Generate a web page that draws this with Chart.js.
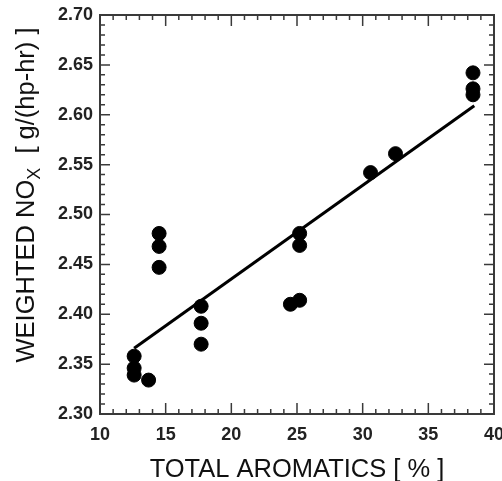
<!DOCTYPE html>
<html>
<head>
<meta charset="utf-8">
<script src="https://cdn.jsdelivr.net/npm/chart.js@4.4.1/dist/chart.umd.min.js"></script>
<style>
	html, body { margin: 0; padding: 0; background: #ffffff; }
	#wrap { width: 502px; height: 481px; }
</style>
</head>
<body>
<div id="wrap"><canvas id="nox-chart" width="502" height="481"></canvas></div>
<script>
// measured points: total aromatics [%] vs weighted NOx [g/(hp-hr)]
var aromatics = [12.6, 12.6, 12.6, 13.7, 14.5, 14.5, 14.5, 17.7, 17.7, 17.7, 24.5, 25.2, 25.2, 25.2, 30.6, 32.5, 38.4, 38.4, 38.4];
var noxValues = [2.358, 2.346, 2.339, 2.334, 2.481, 2.468, 2.447, 2.408, 2.391, 2.370, 2.410, 2.414, 2.481, 2.469, 2.542, 2.561, 2.642, 2.626, 2.620];
// fitted line end points
var fitX = [12.6, 38.5];
var fitY = [2.366, 2.609];
var xTicks = [10, 15, 20, 25, 30, 35, 40];
var yTicks = [2.30, 2.35, 2.40, 2.45, 2.50, 2.55, 2.60, 2.65, 2.70];

var fontFamily = "'Liberation Sans', Arial, Helvetica, sans-serif";
var frameColor = "#3a3a3a";

function toPoints(xs, ys) {
	var pts = [];
	for (var i = 0; i < xs.length; i++) {
		pts.push({x: xs[i], y: ys[i]});
	}
	return pts;
}

// frame with inward ticks on all four sides
var frameTicks = {
	id: "frameTicks",
	afterDraw: function(chart) {
		var ctx = chart.ctx;
		var area = chart.chartArea;
		var xs = chart.scales.x;
		var ys = chart.scales.y;
		ctx.save();
		ctx.strokeStyle = frameColor;
		ctx.lineWidth = 2;
		ctx.strokeRect(area.left, area.top, area.right - area.left, area.bottom - area.top);
		ctx.lineWidth = 1.5;
		ctx.beginPath();
		var i, v, p, len;
		for (i = 0; i <= 30; i++) {
			v = 10 + i;
			p = xs.getPixelForValue(v);
			len = (i % 5 === 0) ? 11 : 5;
			ctx.moveTo(p, area.bottom);
			ctx.lineTo(p, area.bottom - len);
			ctx.moveTo(p, area.top);
			ctx.lineTo(p, area.top + len);
		}
		for (i = 0; i <= 40; i++) {
			v = 2.30 + i * 0.01;
			p = ys.getPixelForValue(v);
			len = (i % 5 === 0) ? 10 : 5;
			ctx.moveTo(area.left, p);
			ctx.lineTo(area.left + len, p);
			ctx.moveTo(area.right, p);
			ctx.lineTo(area.right - len, p);
		}
		ctx.stroke();
		ctx.restore();
	}
};

// y axis title with subscript X
var yTitle = {
	id: "yTitle",
	afterDraw: function(chart) {
		var ctx = chart.ctx;
		var area = chart.chartArea;
		var mainFont = "25.5px " + fontFamily;
		var subFont = "18px " + fontFamily;
		var partA = "WEIGHTED NO";
		var partB = "X";
		var partC = "  [ g/(hp-hr) ]";
		ctx.save();
		ctx.font = mainFont;
		var wA = ctx.measureText(partA).width;
		var wC = ctx.measureText(partC).width;
		ctx.font = subFont;
		var wB = ctx.measureText(partB).width;
		var total = wA + wB + wC;
		var cy = area.top + 180;
		ctx.translate(27, cy);
		ctx.rotate(-Math.PI / 2);
		ctx.fillStyle = "#111111";
		ctx.textBaseline = "middle";
		ctx.textAlign = "left";
		var x0 = -total / 2;
		ctx.font = mainFont;
		ctx.fillText(partA, x0, 0);
		ctx.font = subFont;
		ctx.fillText(partB, x0 + wA, 8);
		ctx.font = mainFont;
		ctx.fillText(partC, x0 + wA + wB, 0);
		ctx.restore();
	}
};

var canvas = document.getElementById("nox-chart");
var noxChart = new Chart(canvas, {
	type: "scatter",
	data: {
		datasets: [
		{
			data: toPoints(aromatics, noxValues),
			backgroundColor: "#000000",
			borderColor: "#000000",
			pointRadius: 7,
			pointHoverRadius: 7
		},
		{
			type: "line",
			data: toPoints(fitX, fitY),
			borderColor: "#000000",
			borderWidth: 3,
			pointRadius: 0,
			fill: false
		}]
	},
	options: {
		responsive: false,
		animation: false,
		events: [],
		layout: { padding: { top: 15, right: 5, left: 0, bottom: 0 } },
		plugins: {
			legend: { display: false },
			tooltip: { enabled: false }
		},
		scales: {
			x: {
				type: "linear",
				min: 10,
				max: 40,
				afterBuildTicks: function(scale) {
					scale.ticks = xTicks.map(function(v) { return {value: v}; });
				},
				afterFit: function(scale) {
					scale.height = 67;
					scale.paddingLeft = 0;
					scale.paddingRight = 0;
				},
				grid: { display: false, drawTicks: false },
				border: { display: false },
				ticks: {
					autoSkip: false,
					maxRotation: 0,
					padding: 10,
					color: "#222222",
					font: { family: fontFamily, size: 18, weight: "bold" }
				},
				title: {
					display: true,
					text: "TOTAL AROMATICS [ % ]",
					color: "#111111",
					font: { family: fontFamily, size: 25.5, lineHeight: 0.9 },
					padding: { top: 0, bottom: 0 }
				}
			},
			y: {
				type: "linear",
				min: 2.30,
				max: 2.70,
				afterBuildTicks: function(scale) {
					scale.ticks = yTicks.map(function(v) { return {value: v}; });
				},
				afterFit: function(scale) {
					scale.width = 100;
					scale.paddingTop = 0;
					scale.paddingBottom = 0;
				},
				grid: { display: false, drawTicks: false },
				border: { display: false },
				ticks: {
					autoSkip: false,
					padding: 7,
					color: "#222222",
					font: { family: fontFamily, size: 18, weight: "bold" },
					callback: function(v) { return Number(v).toFixed(2); }
				}
			}
		}
	},
	plugins: [frameTicks, yTitle]
});
</script>
</body>
</html>
